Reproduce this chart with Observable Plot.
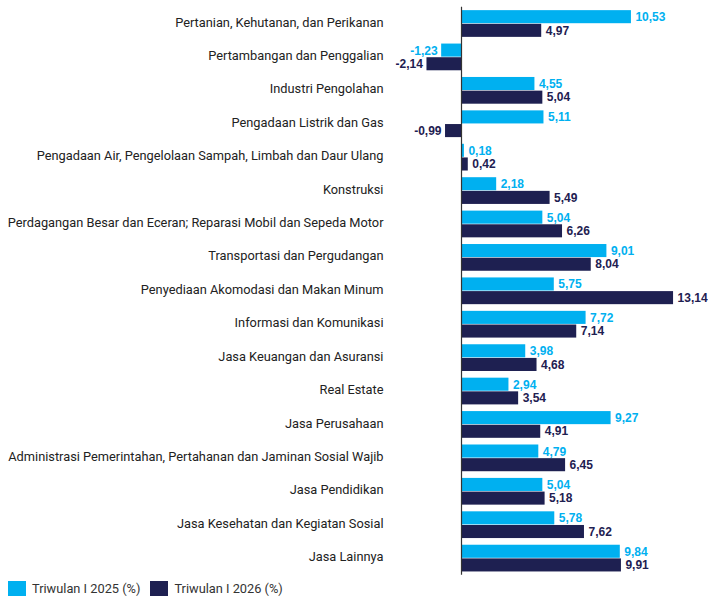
<!DOCTYPE html>
<html>
<head>
<meta charset="utf-8">
<script src="https://cdn.jsdelivr.net/npm/d3@7"></script>
<script src="https://cdn.jsdelivr.net/npm/@observablehq/plot@0.6"></script>
<style>
  html, body { margin: 0; padding: 0; background: #fff; }
  #chart { width: 708px; }
  .legend { display: flex; align-items: center; height: 22px; margin-left: 8px;
            font-family: Roboto, "Noto Sans", sans-serif; font-size: 12.8px; color: #333; }
  .legend .sw { width: 18px; height: 15px; margin-right: 6px; }
  .legend .item { display: flex; align-items: center; margin-right: 10px; }
</style>
</head>
<body>
<div id="chart"></div>
<script>
// Sectors (lapangan usaha)
const categories = [
  "Pertanian, Kehutanan, dan Perikanan",
  "Pertambangan dan Penggalian",
  "Industri Pengolahan",
  "Pengadaan Listrik dan Gas",
  "Pengadaan Air, Pengelolaan Sampah, Limbah dan Daur Ulang",
  "Konstruksi",
  "Perdagangan Besar dan Eceran; Reparasi Mobil dan Sepeda Motor",
  "Transportasi dan Pergudangan",
  "Penyediaan Akomodasi dan Makan Minum",
  "Informasi dan Komunikasi",
  "Jasa Keuangan dan Asuransi",
  "Real Estate",
  "Jasa Perusahaan",
  "Administrasi Pemerintahan, Pertahanan dan Jaminan Sosial Wajib",
  "Jasa Pendidikan",
  "Jasa Kesehatan dan Kegiatan Sosial",
  "Jasa Lainnya"
];

// Growth, percent
const q1_2025 = [10.53, -1.23, 4.55, 5.11, 0.18, 2.18, 5.04, 9.01, 5.75, 7.72, 3.98, 2.94, 9.27, 4.79, 5.04, 5.78, 9.84];
const q1_2026 = [4.97, -2.14, 5.04, -0.99, 0.42, 5.49, 6.26, 8.04, 13.14, 7.14, 4.68, 3.54, 4.91, 6.45, 5.18, 7.62, 9.91];

const seriesNames = ["Triwulan I 2025 (%)", "Triwulan I 2026 (%)"];
const colors = ["#00B0F0", "#1E2051"];

const rows = categories.map((cat, i) => ({cat, a: q1_2025[i], b: q1_2026[i]}));
const fmt = v => v.toFixed(2).replace(".", ",");

const width = 708, height = 577;
const marginTop = 6.8, marginBottom = 2.2;
const paddingInner = 0.2, paddingOuter = 0.1;
const step = (height - marginTop - marginBottom) / (categories.length - paddingInner + 2 * paddingOuter);
const bw = step * (1 - paddingInner);
const half = bw / 2;

const labelFont = {fontFamily: "'Liberation Sans', Arial, sans-serif", fontWeight: "bold", fontSize: 12};

function valueLabels(key, color, dy) {
  return [
    Plot.text(rows.filter(d => d[key] >= 0), {
      x: key, y: "cat", text: d => fmt(d[key]), fill: color,
      dy, dx: 4, textAnchor: "start", ...labelFont
    }),
    Plot.text(rows.filter(d => d[key] < 0), {
      x: key, y: "cat", text: d => fmt(d[key]), fill: color,
      dy, dx: -4, textAnchor: "end", ...labelFont
    })
  ];
}

const chart = Plot.plot({
  width, height,
  marginLeft: 390, marginRight: 13, marginTop, marginBottom,
  style: {fontFamily: "Roboto, 'Noto Sans', sans-serif", fontSize: "12.8px", color: "#222", background: "#fff"},
  x: {domain: [-4.4, 14.5], axis: null},
  y: {domain: categories, paddingInner, paddingOuter, round: false, axis: null},
  marks: [
    Plot.barX(rows, {x: "a", y: "cat", fill: colors[0], insetBottom: half + 0.3}),
    Plot.barX(rows, {x: "b", y: "cat", fill: colors[1], insetTop: half + 0.3}),
    Plot.ruleX([0], {stroke: "#333", strokeWidth: 1.2}),
    Plot.axisY({tickSize: 0, tickPadding: 7, label: null, fill: "#222", dy: -1.5}),
    ...valueLabels("a", colors[0], -half / 2),
    ...valueLabels("b", colors[1], half / 2)
  ]
});

const root = document.getElementById("chart");
root.appendChild(chart);

const legend = document.createElement("div");
legend.className = "legend";
seriesNames.forEach((name, i) => {
  const item = document.createElement("div");
  item.className = "item";
  const sw = document.createElement("div");
  sw.className = "sw";
  sw.style.background = colors[i];
  const label = document.createElement("span");
  label.textContent = name;
  item.appendChild(sw);
  item.appendChild(label);
  legend.appendChild(item);
});
root.appendChild(legend);
</script>
</body>
</html>
